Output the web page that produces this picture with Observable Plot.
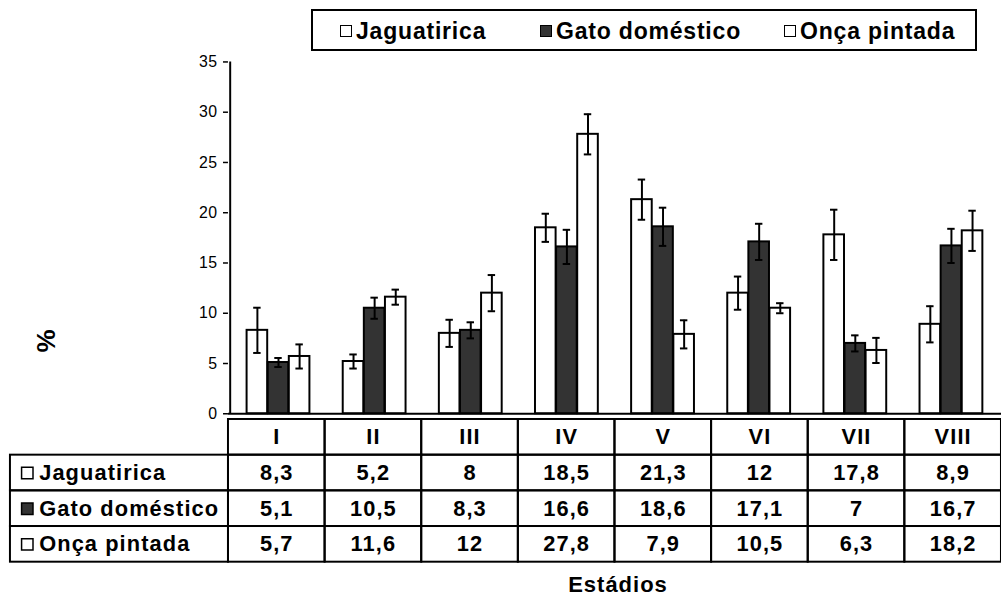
<!DOCTYPE html>
<html><head><meta charset="utf-8">
<script src="https://cdn.jsdelivr.net/npm/d3@7"></script>
<script src="https://cdn.jsdelivr.net/npm/@observablehq/plot@0.6"></script>
<style>
html,body{margin:0;padding:0;background:#fff;overflow:hidden;width:1001px;height:604px;}
#root{position:relative;width:1001px;height:604px;overflow:hidden;font-family:"Liberation Sans",Arial,sans-serif;color:#000;}
#chart{position:absolute;left:0;top:0;}
#table{position:absolute;left:0;top:418px;}
#legend{position:absolute;left:311px;top:9px;width:666px;height:42px;border:2px solid #000;box-sizing:border-box;}
.item{position:absolute;top:1px;height:38px;display:flex;align-items:center;font-weight:bold;font-size:23px;letter-spacing:0.8px;white-space:nowrap;}
.sw{width:12px;height:12px;border:1.5px solid #000;margin-right:4px;box-sizing:border-box;}
#xlabel{position:absolute;left:518px;width:200px;top:572px;text-align:center;font-weight:bold;font-size:22px;letter-spacing:1px;line-height:26px;}
#ylabel{position:absolute;left:30px;top:327px;width:32px;height:28px;font-weight:bold;font-size:26px;line-height:28px;text-align:center;transform:rotate(-90deg);}
#chart svg text.ytick{font-size:16px;}
</style></head>
<body><div id="root">
<div id="chart"></div>
<div id="table"></div>
<div id="legend"></div>
<div id="xlabel"></div>
<div id="ylabel"></div>
</div>
<script>
// ---- data ----
const stages = ["I","II","III","IV","V","VI","VII","VIII"];
const series = ["Jaguatirica","Gato doméstico","Onça pintada"];
const jaguatirica = [8.3, 5.2, 8, 18.5, 21.3, 12, 17.8, 8.9];
const gatoDomestico = [5.1, 10.5, 8.3, 16.6, 18.6, 17.1, 7, 16.7];
const oncaPintada = [5.7, 11.6, 12, 27.8, 7.9, 10.5, 6.3, 18.2];
const jaguatiricaErr = [2.25, 0.7, 1.35, 1.4, 2.0, 1.65, 2.5, 1.8];
const gatoDomesticoErr = [0.45, 1.05, 0.8, 1.7, 1.9, 1.8, 0.8, 1.7];
const oncaPintadaErr = [1.2, 0.75, 1.8, 2.0, 1.4, 0.5, 1.25, 2.0];
const yTicks = [0, 5, 10, 15, 20, 25, 30, 35];
const xTitle = "Estádios";
const yTitle = "%";

// ---- styles ----
const fills = ["#ffffff", "#333333", "#ffffff"];
const values = [jaguatirica, gatoDomestico, oncaPintada];
const errs = [jaguatiricaErr, gatoDomesticoErr, oncaPintadaErr];
const W = 1010, ML = 230;
const BW = (W - ML) / stages.length;
const barW = 21.3;
const groupPad = (BW - 3 * barW) / 2;
const fmt = v => String(v).replace(".", ",");
const FONT = '"Liberation Sans", Arial, sans-serif';

const data = [];
series.forEach((name, s) => stages.forEach((st, i) => data.push({series: name, s, stage: st, value: values[s][i], err: errs[s][i]})));

const marks = [];
series.forEach((name, s) => {
  const rows = data.filter(d => d.s === s);
  const left = groupPad + s * barW;
  const right = BW - left - barW;
  const center = left + barW / 2 - BW / 2;
  marks.push(Plot.barY(rows, {x: "stage", y: "value", fill: fills[s], stroke: "#000", strokeWidth: 2, insetLeft: left, insetRight: right}));
  marks.push(Plot.ruleX(rows, {x: "stage", y1: d => d.value - d.err, y2: d => d.value + d.err, dx: center, stroke: "#000", strokeWidth: 2}));
  marks.push(Plot.tickY(rows, {x: "stage", y: d => d.value + d.err, dx: center, insetLeft: BW / 2 - 4, insetRight: BW / 2 - 4, stroke: "#000", strokeWidth: 2}));
  marks.push(Plot.tickY(rows, {x: "stage", y: d => d.value - d.err, dx: center, insetLeft: BW / 2 - 4, insetRight: BW / 2 - 4, stroke: "#000", strokeWidth: 2}));
});

const chart = Plot.plot({
  width: W, height: 418,
  marginLeft: ML, marginRight: 0, marginTop: 62, marginBottom: 1,
  style: {fontFamily: FONT, fontSize: "16px", color: "#000", background: "transparent", overflow: "visible", letterSpacing: "0.5px"},
  x: {domain: stages, padding: 0, axis: null},
  y: {domain: [0, 35], axis: null},
  marks: [
    ...marks,
    Plot.ruleY([0], {stroke: "#000", strokeWidth: 2}),
    Plot.ruleX([stages[0]], {x: d => d, dx: -BW / 2, y1: 0, y2: 35, stroke: "#000", strokeWidth: 2}),
    Plot.axisY({ticks: yTicks, tickSize: 5, tickFormat: () => "", label: null, strokeWidth: 1.5}),
    Plot.text(yTicks, {y: d => d, text: d => String(d), frameAnchor: "left", dx: -11, textAnchor: "end", fontSize: 16, fill: "#000"})
  ]
});
document.getElementById("chart").appendChild(chart);

// ---- data table ----
const labelColStart = -(ML - 10) / BW;
const cells = [];
stages.forEach((st, i) => cells.push({row: "", x1: i, x2: i + 1, text: st}));
series.forEach((name, s) => {
  cells.push({row: name, x1: labelColStart, x2: 0, text: null});
  stages.forEach((st, i) => cells.push({row: name, x1: i, x2: i + 1, text: fmt(values[s][i])}));
});
const table = Plot.plot({
  width: W, height: 146,
  marginLeft: ML, marginRight: 0, marginTop: 0, marginBottom: 1,
  style: {fontFamily: FONT, color: "#000", background: "transparent", overflow: "visible", letterSpacing: "1.1px"},
  x: {domain: [0, stages.length], axis: null},
  y: {domain: ["", ...series], padding: 0, axis: null},
  color: {type: "identity"},
  marks: [
    Plot.barX(cells, {x1: "x1", x2: "x2", y: "row", fill: "none", stroke: "#000", strokeWidth: 2}),
    Plot.text(cells.filter(d => d.text != null), {x: d => (d.x1 + d.x2) / 2, y: "row", text: "text", fontSize: 22, fontWeight: "bold", fill: "#000"}),
    Plot.dot(series, {x: () => labelColStart, y: d => d, dx: 17, symbol: "square", r: 6.5, fill: (d, i) => fills[i], stroke: "#000", strokeWidth: 1.5}),
    Plot.text(series, {x: () => labelColStart, y: d => d, dx: 29, text: d => d, textAnchor: "start", fontSize: 22, fontWeight: "bold", fill: "#000"})
  ]
});
document.getElementById("table").appendChild(table);

// ---- legend ----
const legend = document.getElementById("legend");
const legendX = [27, 227, 471];
series.forEach((name, s) => {
  const it = document.createElement("div");
  it.className = "item";
  it.style.left = legendX[s] + "px";
  const sw = document.createElement("span");
  sw.className = "sw";
  sw.style.background = fills[s];
  it.appendChild(sw);
  it.appendChild(document.createTextNode(name));
  legend.appendChild(it);
});
document.getElementById("xlabel").textContent = xTitle;
document.getElementById("ylabel").textContent = yTitle;
</script>
</body></html>
